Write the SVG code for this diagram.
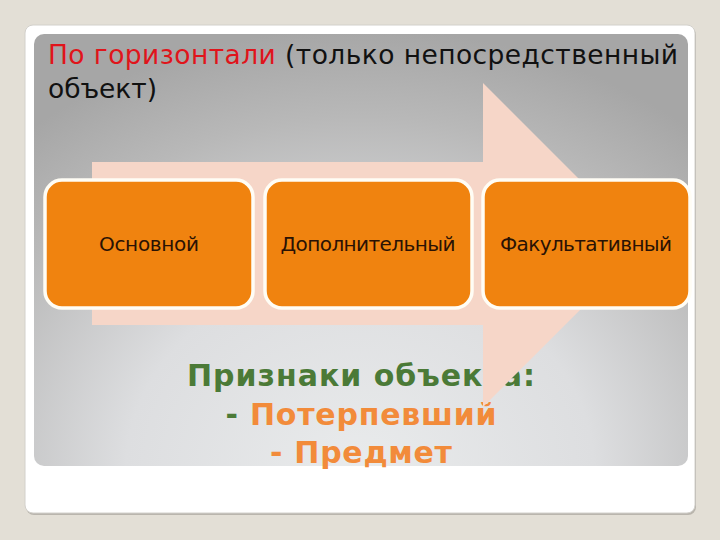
<svg xmlns="http://www.w3.org/2000/svg" width="720" height="540" viewBox="0 0 720 540">
<defs>
<radialGradient id="panelGrad" cx="360" cy="470" r="520" gradientUnits="userSpaceOnUse" gradientTransform="translate(360 470) scale(1 0.85) translate(-360 -470)">
<stop offset="0" stop-color="#e9ebec"/>
<stop offset="0.45" stop-color="#dddee0"/>
<stop offset="0.8" stop-color="#b8b8b8"/>
<stop offset="1" stop-color="#a6a6a6"/>
</radialGradient>
<filter id="soft" x="-5%" y="-5%" width="110%" height="110%">
<feGaussianBlur stdDeviation="0.6"/>
</filter>
</defs>
<style>
.box{fill:#f0830f;stroke:#fffdf5;stroke-width:3.5}
.lbl{font-family:"DejaVu Sans","Liberation Sans",sans-serif;font-size:20px;fill:#2a1204;text-anchor:middle}
.title{font-family:"DejaVu Sans","Liberation Sans",sans-serif;font-size:26.5px;fill:#111}
.big{font-family:"DejaVu Sans","Liberation Sans",sans-serif;font-weight:bold;font-size:30px;text-anchor:middle}
.green{fill:#4b7a37}
.orange{fill:#f28b3a}
</style>
<rect x="0" y="0" width="720" height="540" fill="#e3dfd6"/>
<g id="card">
<rect x="26" y="27" width="670" height="488" rx="8" fill="#b9b5ad" filter="url(#soft)"/>
<rect x="25" y="25" width="670" height="488" rx="8" fill="#ffffff" stroke="#d2d0cb" stroke-width="1"/>
<rect x="34" y="34" width="654" height="432" rx="10" fill="url(#panelGrad)"/>
</g>
<g id="title">
<text class="title" x="48" y="64" textLength="630"><tspan fill="#e0141b">По горизонтали</tspan> (только непосредственный</text>
<text class="title" x="48" y="98" textLength="109">объект)</text>
</g>
<g id="signs">
<text class="big green" x="361" y="386" textLength="348">Признаки объекта:</text>
<text class="big" x="361" y="425" textLength="271"><tspan class="green">- </tspan><tspan class="orange">Потерпевший</tspan></text>
<text class="big orange" x="361" y="463" textLength="182">- Предмет</text>
</g>
<g id="connectors">
<path id="arrow" d="M92 162 H483 V83 L645 245 L483 407 V325 H92 Z" fill="#f6d6c8"/>
</g>
<g id="node-osnovnoy">
<rect class="box" x="45" y="180" width="208" height="128" rx="17"/>
<text class="lbl" x="149" y="251" textLength="100">Основной</text>
</g>
<g id="node-dopolnitelny">
<rect class="box" x="265" y="180" width="207" height="128" rx="17"/>
<text class="lbl" x="368" y="251" textLength="175">Дополнительный</text>
</g>
<g id="node-fakultativny">
<rect class="box" x="483" y="180" width="207" height="128" rx="17"/>
<text class="lbl" x="586" y="251" textLength="172">Факультативный</text>
</g>
</svg>
